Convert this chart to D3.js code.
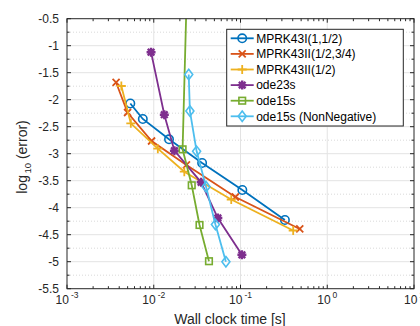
<!DOCTYPE html>
<html>
<head>
<meta charset="utf-8">
<script src="https://cdn.jsdelivr.net/npm/d3@7/dist/d3.min.js"></script>
<style>
  html, body { margin: 0; padding: 0; background: #fff; }
  svg { display: block; font-family: "Liberation Sans", Arial, sans-serif; }
</style>
</head>
<body>
<div id="chart"></div>
<script>
/* ── Data ────────────────────────────────────────────────── */

const seriesNames = [
  'MPRK43I(1,1/2)', 'MPRK43II(1/2,3/4)', 'MPRK43II(1/2)',
  'ode23s', 'ode15s', 'ode15s (NonNegative)'
];

// wall clock time [s]
const timeMPRK1   = [0.00537, 0.00748, 0.0150, 0.0361, 0.105, 0.325];
const timeMPRK2   = [0.00368, 0.00499, 0.00944, 0.0238, 0.0873, 0.482];
const timeMPRK3   = [0.00423, 0.00544, 0.01114, 0.0225, 0.0782, 0.405];
const timeOde23s  = [0.00931, 0.01324, 0.0173, 0.0352, 0.0548, 0.1038];
const timeOde15s  = [0.0245, 0.0215, 0.0274, 0.0337, 0.0433];
const timeOde15nn = [0.0253, 0.0261, 0.0312, 0.0401, 0.0514, 0.0679];

// log10(error)
const errMPRK1   = [-2.07, -2.357, -2.733, -3.172, -3.672, -4.228];
const errMPRK2   = [-1.681, -2.237, -2.765, -3.209, -3.802, -4.394];
const errMPRK3   = [-1.746, -2.437, -2.907, -3.333, -3.848, -4.422];
const errOde23s  = [-1.12, -2.278, -2.944, -3.53, -4.191, -4.872];
const errOde15s  = [0.5, -2.919, -3.585, -4.32, -4.991];
const errOde15nn = [-1.533, -2.209, -2.956, -3.611, -4.311, -5.002];

const xTicks = [1e-3, 1e-2, 1e-1, 1e0, 1e1];
const xTickExp = ['-3', '-2', '-1', '0', '1'];
const yTicks = [-0.5, -1, -1.5, -2, -2.5, -3, -3.5, -4, -4.5, -5, -5.5];

/* ── Layout ──────────────────────────────────────────────── */

const W = 420, H = 326;
const m = { left: 67, right: 6, top: 18.7, bottom: 37.3 };
const iw = W - m.left - m.right;
const ih = H - m.top - m.bottom;

const colors = ['#0072BD', '#D95319', '#EDB120', '#7E2F8E', '#77AC30', '#4DBEEE'];
const markers = ['circle', 'cross', 'plus', 'star', 'square', 'diamond'];

const x = d3.scaleLog().domain([1e-3, 1e1]).range([m.left, m.left + iw]);
const y = d3.scaleLinear().domain([-5.5, -0.5]).range([m.top + ih, m.top]);

const svg = d3.select('#chart').append('svg')
  .attr('width', W).attr('height', H);

svg.append('rect').attr('width', W).attr('height', H).attr('fill', '#fff');

svg.append('defs').append('clipPath').attr('id', 'clip')
  .append('rect').attr('x', m.left).attr('y', m.top).attr('width', iw).attr('height', ih);

/* ── Grid ────────────────────────────────────────────────── */

const minorX = [];
for (let e = -3; e < 1; e++) for (let k = 2; k <= 9; k++) minorX.push(k * Math.pow(10, e));
const minorY = d3.range(-5.25, -0.5, 0.5);

const grid = svg.append('g');
grid.selectAll('.gy').data(yTicks.slice(1, -1)).join('line')
  .attr('x1', m.left).attr('x2', m.left + iw)
  .attr('y1', d => y(d)).attr('y2', d => y(d))
  .attr('stroke', '#e3e3e3').attr('stroke-width', 1);
grid.selectAll('.gmy').data(minorY).join('line')
  .attr('x1', m.left).attr('x2', m.left + iw)
  .attr('y1', d => y(d)).attr('y2', d => y(d))
  .attr('stroke', '#cfcfcf').attr('stroke-width', 0.8).attr('stroke-dasharray', '1,2');
grid.selectAll('.gx').data(xTicks.slice(1, -1)).join('line')
  .attr('x1', d => x(d)).attr('x2', d => x(d))
  .attr('y1', m.top).attr('y2', m.top + ih)
  .attr('stroke', '#e3e3e3').attr('stroke-width', 1);

/* ── Series ──────────────────────────────────────────────── */

const series = [
  [timeMPRK1, errMPRK1], [timeMPRK2, errMPRK2], [timeMPRK3, errMPRK3],
  [timeOde23s, errOde23s], [timeOde15s, errOde15s], [timeOde15nn, errOde15nn]
].map(([t, e], i) => ({ name: seriesNames[i], color: colors[i], marker: markers[i],
  points: t.map((v, j) => [v, e[j]]) }));

function drawMarker(g, type, color) {
  if (type === 'circle') {
    g.append('circle').attr('r', 4.2).attr('fill', 'none').attr('stroke', color).attr('stroke-width', 1.6);
  } else if (type === 'cross') {
    g.append('path').attr('d', 'M-3.5,-3.5L3.5,3.5M-3.5,3.5L3.5,-3.5')
      .attr('stroke', color).attr('stroke-width', 1.8);
  } else if (type === 'plus') {
    g.append('path').attr('d', 'M-4.5,0H4.5M0,-4.5V4.5')
      .attr('stroke', color).attr('stroke-width', 1.8);
  } else if (type === 'star') {
    g.append('path').attr('d', 'M-4.5,0H4.5M0,-4.5V4.5M-3.3,-3.3L3.3,3.3M-3.3,3.3L3.3,-3.3')
      .attr('stroke', color).attr('stroke-width', 2.4);
  } else if (type === 'square') {
    g.append('rect').attr('x', -3.3).attr('y', -3.3).attr('width', 6.6).attr('height', 6.6)
      .attr('fill', 'none').attr('stroke', color).attr('stroke-width', 1.6);
  } else if (type === 'diamond') {
    g.append('path').attr('d', 'M0,-5.2L4,0L0,5.2L-4,0Z')
      .attr('fill', 'none').attr('stroke', color).attr('stroke-width', 1.6);
  }
}

const line = d3.line().x(d => x(d[0])).y(d => y(d[1]));
const plot = svg.append('g').attr('clip-path', 'url(#clip)');

series.forEach(s => {
  plot.append('path').datum(s.points).attr('d', line)
    .attr('fill', 'none').attr('stroke', s.color).attr('stroke-width', 1.8);
  s.points.forEach(p => {
    const g = plot.append('g').attr('transform', `translate(${x(p[0])},${y(p[1])})`);
    drawMarker(g, s.marker, s.color);
  });
});

/* ── Axes box + ticks ────────────────────────────────────── */

const axisColor = '#262626';
const ax = svg.append('g').attr('stroke', axisColor).attr('stroke-width', 1);
ax.append('rect').attr('x', m.left).attr('y', m.top).attr('width', iw).attr('height', ih)
  .attr('fill', 'none');

const tickLen = 4, minorLen = 2.5;
[[m.top + ih, -1], [m.top, 1]].forEach(([yy, dir]) => {
  ax.selectAll(null).data(xTicks).join('line')
    .attr('x1', d => x(d)).attr('x2', d => x(d))
    .attr('y1', yy).attr('y2', yy + dir * tickLen);
  ax.selectAll(null).data(minorX).join('line')
    .attr('x1', d => x(d)).attr('x2', d => x(d))
    .attr('y1', yy).attr('y2', yy + dir * minorLen);
});
[[m.left, 1], [m.left + iw, -1]].forEach(([xx, dir]) => {
  ax.selectAll(null).data(yTicks).join('line')
    .attr('x1', xx).attr('x2', xx + dir * tickLen)
    .attr('y1', d => y(d)).attr('y2', d => y(d));
  ax.selectAll(null).data(minorY).join('line')
    .attr('x1', xx).attr('x2', xx + dir * minorLen)
    .attr('y1', d => y(d)).attr('y2', d => y(d));
});

/* ── Tick labels ─────────────────────────────────────────── */

svg.append('g').selectAll('text').data(yTicks).join('text')
  .attr('x', m.left - 8).attr('y', d => y(d)).attr('dy', '0.35em')
  .attr('text-anchor', 'end').attr('font-size', 12).attr('fill', axisColor)
  .text(d => d);

const xl = svg.append('g').selectAll('text').data(xTicks).join('text')
  .attr('x', d => x(d)).attr('y', m.top + ih + 15.5)
  .attr('text-anchor', 'middle').attr('font-size', 12).attr('fill', axisColor);
xl.append('tspan').text('10');
xl.append('tspan').attr('dy', -6.5).attr('dx', 2).attr('font-size', 8.5).text((d, i) => xTickExp[i]);

/* ── Axis labels ─────────────────────────────────────────── */

svg.append('text').attr('x', 230).attr('y', 323.5)
  .attr('text-anchor', 'middle').attr('font-size', 14).attr('fill', axisColor)
  .text('Wall clock time [s]');

const yl = svg.append('text')
  .attr('transform', `translate(27,157) rotate(-90)`)
  .attr('text-anchor', 'middle').attr('font-size', 14).attr('fill', axisColor);
yl.append('tspan').text('log');
yl.append('tspan').attr('dy', 4).attr('dx', 1.5).attr('font-size', 9.5).text('10');
yl.append('tspan').attr('dy', -4).text(' (error)');

/* ── Legend ──────────────────────────────────────────────── */

const lg = svg.append('g').attr('transform', 'translate(226.7,29.3)');
lg.append('rect').attr('width', 176.6).attr('height', 96.7)
  .attr('fill', '#fff').attr('stroke', axisColor).attr('stroke-width', 1);
series.forEach((s, i) => {
  const yy = 9 + i * 15.6;
  const row = lg.append('g').attr('transform', `translate(0,${yy})`);
  row.append('line').attr('x1', 4).attr('x2', 27).attr('y1', 0).attr('y2', 0)
    .attr('stroke', s.color).attr('stroke-width', 1.8);
  drawMarker(row.append('g').attr('transform', 'translate(15.5,0)'), s.marker, s.color);
  row.append('text').attr('x', 29.5).attr('y', 0).attr('dy', '0.36em')
    .attr('font-size', 12).attr('fill', '#000').text(s.name);
});
</script>
</body>
</html>
